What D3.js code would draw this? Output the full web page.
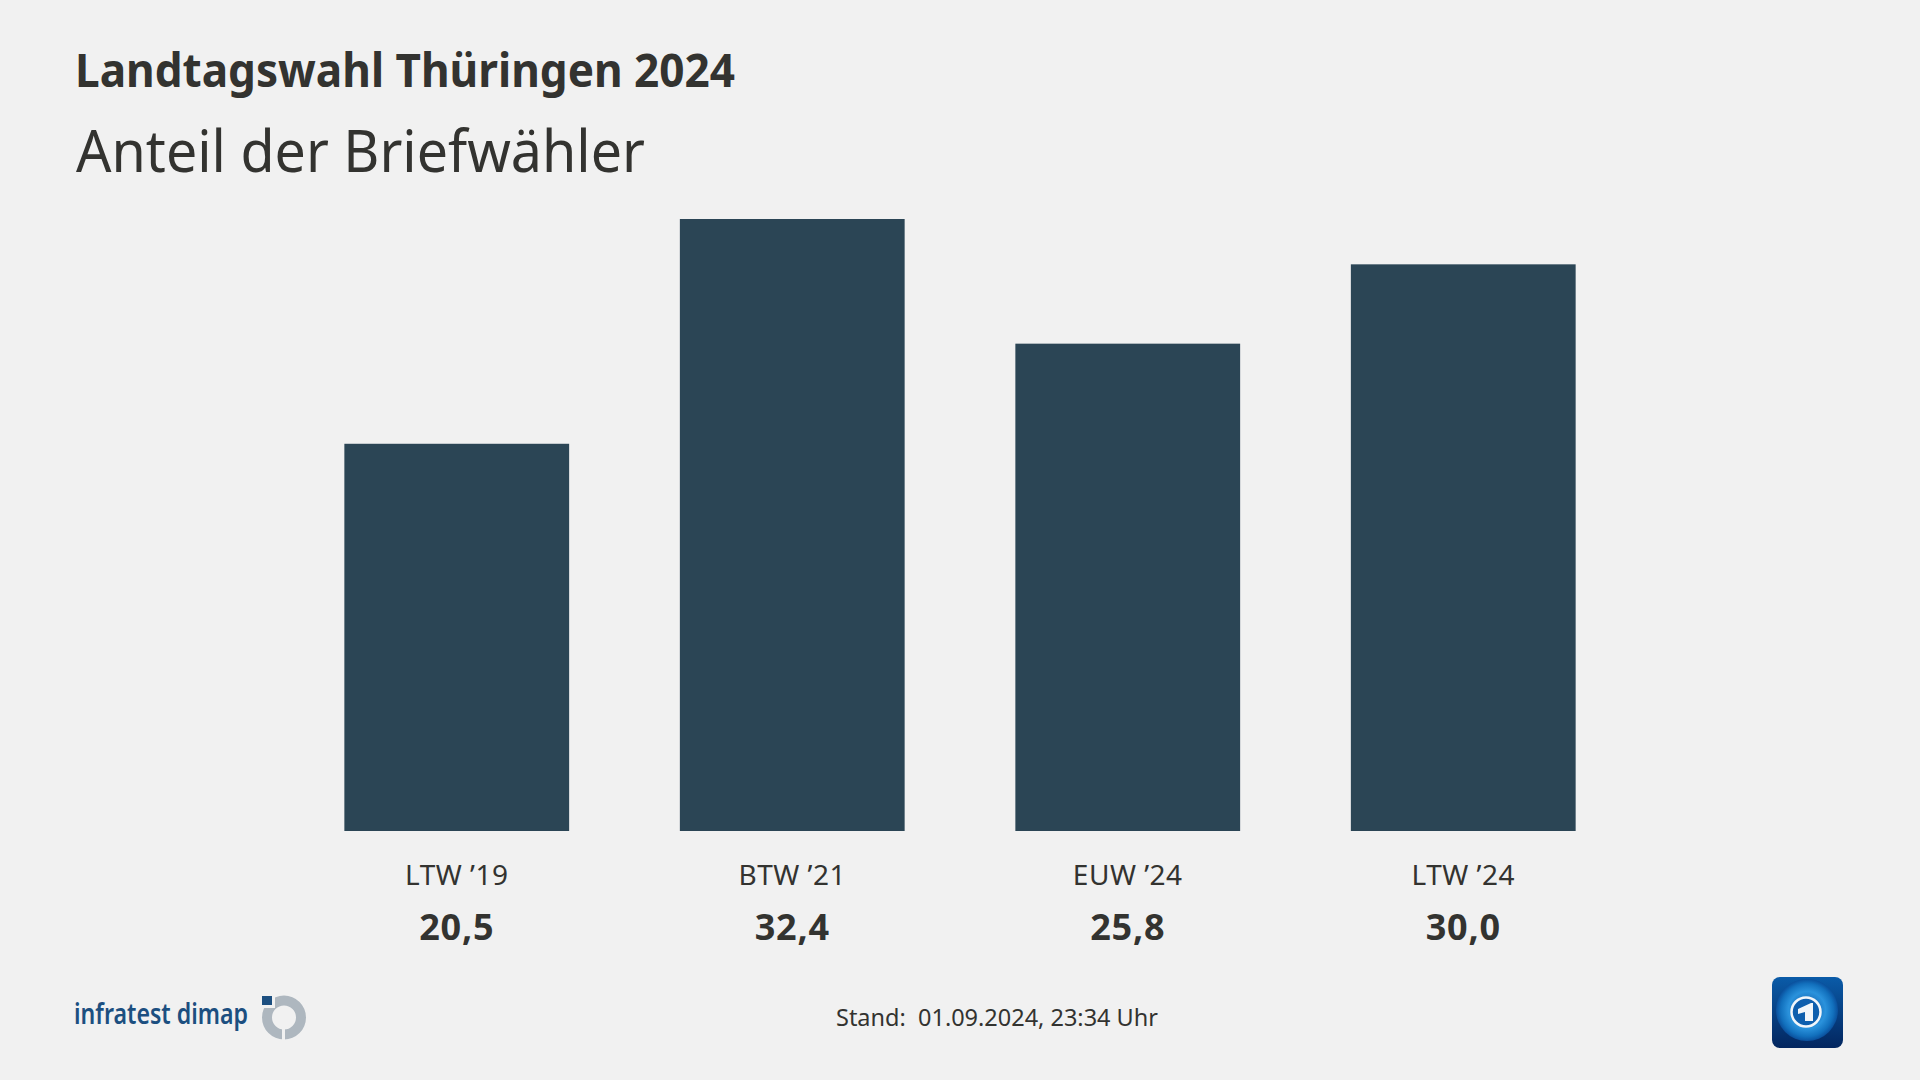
<!DOCTYPE html>
<html lang="de">
<head>
<meta charset="utf-8">
<script src="https://cdnjs.cloudflare.com/ajax/libs/d3/7.8.5/d3.min.js"></script>
<style>
  html, body { margin: 0; padding: 0; background: #f1f1f1; }
  text { font-family: "Noto Sans", sans-serif; fill: #333330; }
</style>
</head>
<body>
<div id="chart"></div>
<script>
// data
var categories = ["LTW ’19", "BTW ’21", "EUW ’24", "LTW ’24"];
var values = [20.5, 32.4, 25.8, 30.0];
var valueLabels = ["20,5", "32,4", "25,8", "30,0"];

var w = 1920, h = 1080;

var svg = d3.select("#chart").append("svg")
  .attr("width", w)
  .attr("height", h)
  .style("display", "block");

svg.append("rect").attr("width", w).attr("height", h).attr("fill", "#f1f1f1");

//Title
svg.append("text").attr("x", 75).attr("y", 87)
  .attr("font-size", 47).attr("font-weight", 700)
  .attr("textLength", 660).attr("lengthAdjust", "spacingAndGlyphs")
  .text("Landtagswahl Thüringen 2024");
svg.append("text").attr("x", 76).attr("y", 171.5)
  .attr("font-size", 58).attr("font-weight", 400)
  .attr("textLength", 569).attr("lengthAdjust", "spacingAndGlyphs")
  .text("Anteil der Briefwähler");

//Scales
var x = d3.scaleBand()
  .domain(categories)
  .range([289, 1631])
  .paddingInner(0.33)
  .paddingOuter(0.165);

var y = d3.scaleLinear()
  .domain([0, 32.4])
  .range([831, 219]);

//Bars
svg.selectAll("rect.bar")
  .data(values)
  .enter()
  .append("rect")
  .attr("class", "bar")
  .attr("x", function (d, i) { return x(categories[i]); })
  .attr("y", function (d) { return y(d); })
  .attr("width", x.bandwidth())
  .attr("height", function (d) { return y(0) - y(d); })
  .attr("fill", "#2b4555");

//Category labels
svg.selectAll("text.cat")
  .data(categories)
  .enter()
  .append("text")
  .attr("class", "cat")
  .attr("x", function (d) { return x(d) + x.bandwidth() / 2; })
  .attr("y", 885)
  .attr("text-anchor", "middle")
  .attr("font-size", 28)
  .attr("letter-spacing", 0.5)
  .text(function (d) { return d; });

//Value labels
svg.selectAll("text.val")
  .data(valueLabels)
  .enter()
  .append("text")
  .attr("class", "val")
  .attr("x", function (d, i) { return x(categories[i]) + x.bandwidth() / 2; })
  .attr("y", 940)
  .attr("text-anchor", "middle")
  .attr("font-size", 36)
  .attr("font-weight", 700)
  .attr("letter-spacing", 0.8)
  .text(function (d) { return d; });

//Footer
svg.append("text").attr("x", 836).attr("y", 1026)
  .attr("font-size", 24)
  .attr("textLength", 322).attr("lengthAdjust", "spacingAndGlyphs")
  .attr("xml:space", "preserve")
  .text("Stand:  01.09.2024, 23:34 Uhr");

//infratest dimap logo
var defs = svg.append("defs");
var logo = svg.append("g");
logo.append("text").attr("x", 74).attr("y", 1024)
  .attr("font-size", 29).attr("font-weight", 600)
  .attr("textLength", 174).attr("lengthAdjust", "spacingAndGlyphs")
  .style("fill", "#1c4f80")
  .text("infratest dimap");

var logoClip = defs.append("clipPath").attr("id", "logoClip");
logoClip.append("rect").attr("x", 285).attr("y", 990).attr("width", 25).attr("height", 55);
logoClip.append("rect").attr("x", 275).attr("y", 990).attr("width", 10).attr("height", 27);
logoClip.append("rect").attr("x", 255).attr("y", 1008).attr("width", 27).attr("height", 37);

logo.append("g").attr("clip-path", "url(#logoClip)")
  .append("path")
  .attr("transform", "translate(284,1017.5)")
  .attr("d", d3.arc().innerRadius(12).outerRadius(22)({ startAngle: 0, endAngle: 2 * Math.PI }))
  .attr("fill", "#aeb7bf");
logo.append("rect").attr("x", 262).attr("y", 996).attr("width", 10).attr("height", 9)
  .attr("fill", "#1c4f80");

//ARD tagesschau icon
var bg = defs.append("linearGradient").attr("id", "iconBg")
  .attr("x1", 0).attr("y1", 0).attr("x2", 0).attr("y2", 1);
bg.append("stop").attr("offset", "0%").attr("stop-color", "#0a5ba8");
bg.append("stop").attr("offset", "100%").attr("stop-color", "#03265f");
var globe = defs.append("radialGradient").attr("id", "iconGlobe")
  .attr("cx", "50%").attr("cy", "50%").attr("r", "50%");
globe.append("stop").attr("offset", "0%").attr("stop-color", "#0b4f9e");
globe.append("stop").attr("offset", "60%").attr("stop-color", "#2a92dc");
globe.append("stop").attr("offset", "85%").attr("stop-color", "#1270bd");
globe.append("stop").attr("offset", "100%").attr("stop-color", "#0a4f9c");

var icon = svg.append("g").attr("transform", "translate(1772,977)");
icon.append("rect").attr("width", 71).attr("height", 71).attr("rx", 8).attr("fill", "url(#iconBg)");
icon.append("circle").attr("cx", 35).attr("cy", 33).attr("r", 31).attr("fill", "url(#iconGlobe)");
icon.append("circle").attr("cx", 34).attr("cy", 35).attr("r", 14.5)
  .attr("fill", "#0f5fae").attr("stroke", "#f2f6fa").attr("stroke-width", 2.5);
icon.append("path").attr("d", d3.line()([[26, 32], [39, 26], [41, 26], [41, 44], [33, 44], [33, 35], [26, 37]]))
  .attr("fill", "#f2f6fa");
</script>
</body>
</html>
